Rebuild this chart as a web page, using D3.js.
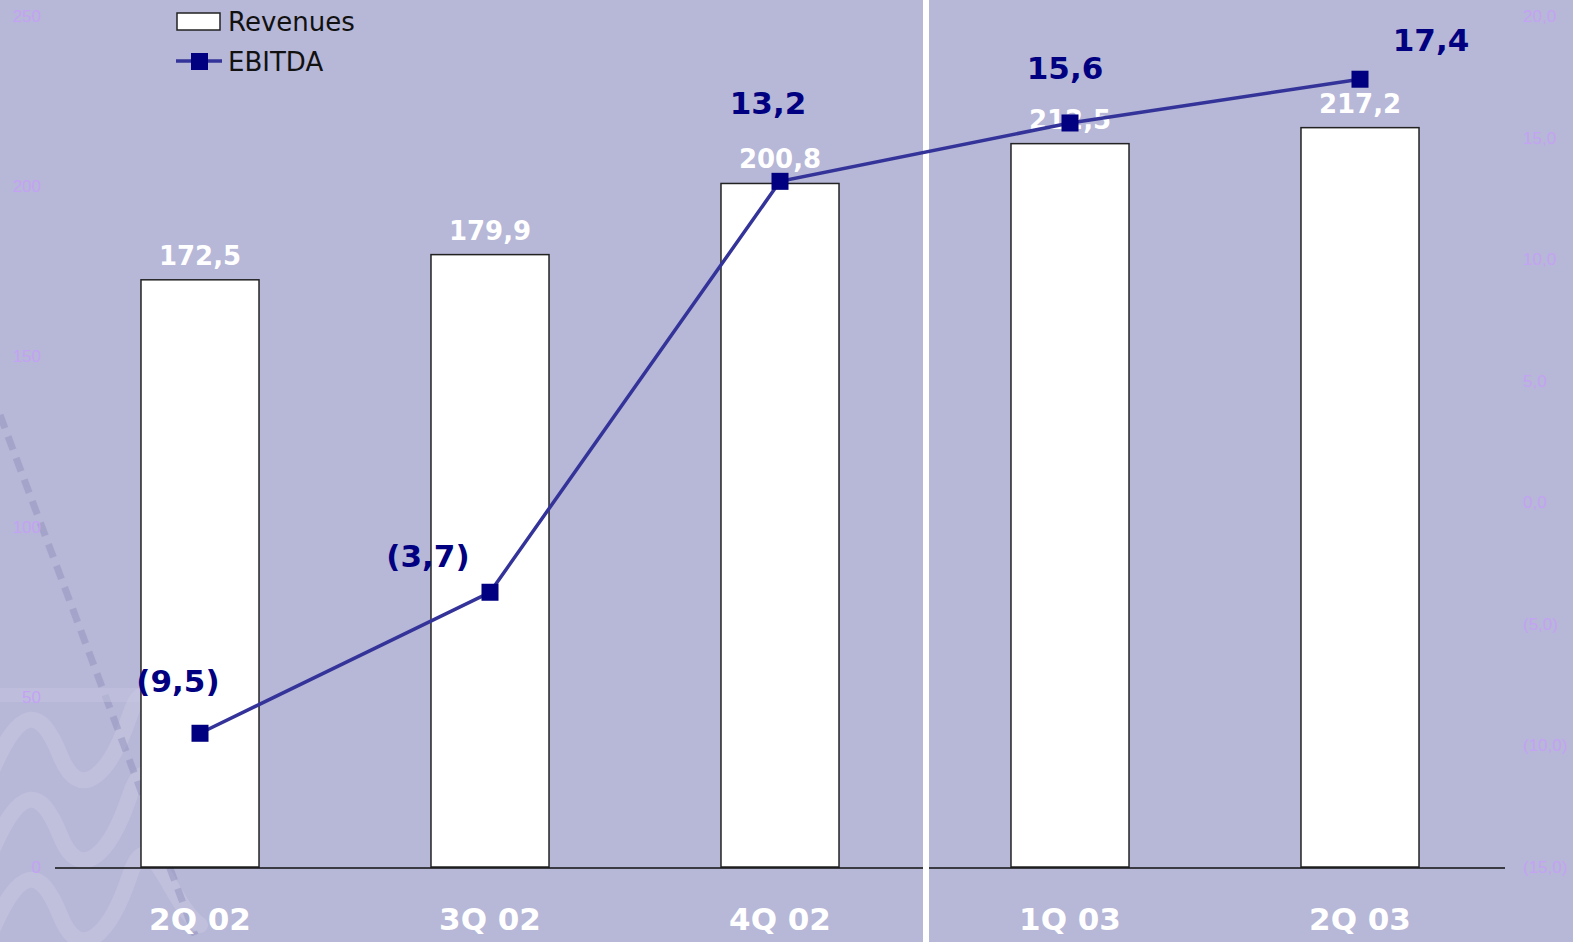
<!DOCTYPE html>
<html><head><meta charset="utf-8">
<script src="https://cdn.jsdelivr.net/npm/d3@7"></script>
<style>html,body{margin:0;padding:0;background:#b7b7d7;overflow:hidden}</style>
</head><body>
<svg id="chart" width="1573" height="942"></svg>
<script>
const categories = ["2Q 02","3Q 02","4Q 02","1Q 03","2Q 03"];
const revenues = [172.5, 179.9, 200.8, 212.5, 217.2];
const ebitda = [-9.5, -3.7, 13.2, 15.6, 17.4];
const revLabels = ["172,5","179,9","200,8","212,5","217,2"];
const ebitdaLabels = ["(9,5)","(3,7)","13,2","15,6","17,4"];
const leftTicks = [0,50,100,150,200,250];
const rightTicks = [-15,-10,-5,0,5,10,15,20];
const rightTickLabels = ["(15,0)","(10,0)","(5,0)","0,0","5,0","10,0","15,0","20,0"];
// label offsets (layout)
const ebLabelDx = [-22, -62, -12, -5, 71];
const ebLabelDy = [-41, -25, -67, -44, -28];

const svg = d3.select("#chart");
const W = 1573, H = 942;
svg.append("rect").attr("width",W).attr("height",H).attr("fill","#b7b7d7");

// faint background decoration
const deco = svg.append("g").attr("opacity",0.22).attr("fill","none").attr("stroke","#e2e2f4").attr("stroke-width",16).attr("stroke-linecap","round");
[735,815,895].forEach(y0=>{
  deco.append("path").attr("d",`M-10 ${y0+40} C20 ${y0-30}, 40 ${y0-30}, 60 ${y0+20} S110 ${y0+40}, 130 ${y0-20} S170 ${y0+10}, 200 ${y0+30}`);
});
svg.append("path").attr("d","M0 415 L195 935").attr("stroke","#9696c0").attr("stroke-width",7)
  .attr("stroke-dasharray","14 9").attr("opacity",0.55).attr("fill","none");
svg.append("rect").attr("x",0).attr("y",688).attr("width",140).attr("height",14).attr("fill","#c8c8e2").attr("opacity",0.45);

const x = d3.scaleBand().domain(categories).range([55,1505]).paddingInner(0.593).paddingOuter(0.2965);
const yL = d3.scaleLinear().domain([0,250]).range([867,16]);
const yR = d3.scaleLinear().domain([-15,20]).range([867,16]);

// left axis labels
svg.append("g").selectAll("text").data(leftTicks).join("text")
  .attr("x",41).attr("y",d=>yL(d)+6).attr("text-anchor","end")
  .attr("font-family","Liberation Sans, Arial, sans-serif").attr("font-size",17)
  .attr("fill","#c4a2f4").text(d=>d);
// right axis labels
svg.append("g").selectAll("text").data(rightTicks).join("text")
  .attr("x",1523).attr("y",d=>yR(d)+6).attr("text-anchor","start")
  .attr("font-family","Liberation Sans, Arial, sans-serif").attr("font-size",17)
  .attr("fill","#c4a2f4").text((d,i)=>rightTickLabels[i]);

// bars
svg.append("g").selectAll("rect").data(revenues).join("rect")
  .attr("x",(d,i)=>x(categories[i])).attr("width",x.bandwidth())
  .attr("y",d=>yL(d)).attr("height",d=>yL(0)-yL(d))
  .attr("fill","#ffffff").attr("stroke","#222").attr("stroke-width",1.5);

// baseline
svg.append("line").attr("x1",55).attr("x2",1505).attr("y1",yL(0)+1).attr("y2",yL(0)+1)
  .attr("stroke","#111").attr("stroke-width",1.5);

// revenue labels
svg.append("g").selectAll("text").data(revenues).join("text")
  .attr("x",(d,i)=>x(categories[i])+x.bandwidth()/2).attr("y",d=>yL(d)-15)
  .attr("text-anchor","middle").attr("font-family","DejaVu Sans, Verdana, sans-serif")
  .attr("font-weight","bold").attr("font-size",26).attr("fill","#ffffff")
  .text((d,i)=>revLabels[i]);

// separator
svg.append("rect").attr("x",923).attr("y",0).attr("width",6).attr("height",H).attr("fill","#ffffff");

// EBITDA line
const cx = (i)=>x(categories[i])+x.bandwidth()/2;
const line = d3.line().x((d,i)=>cx(i)).y(d=>yR(d));
svg.append("path").datum(ebitda).attr("d",line).attr("fill","none")
  .attr("stroke","#333399").attr("stroke-width",3.5);
svg.append("g").selectAll("rect").data(ebitda).join("rect")
  .attr("x",(d,i)=>cx(i)-8.5).attr("y",d=>yR(d)-8.5).attr("width",17).attr("height",17)
  .attr("fill","#000080");
svg.append("g").selectAll("text").data(ebitda).join("text")
  .attr("x",(d,i)=>cx(i)+ebLabelDx[i]).attr("y",(d,i)=>yR(d)+ebLabelDy[i])
  .attr("text-anchor","middle").attr("font-family","DejaVu Sans, Verdana, sans-serif")
  .attr("font-weight","bold").attr("font-size",31).attr("fill","#000080")
  .text((d,i)=>ebitdaLabels[i]);

// x axis labels
svg.append("g").selectAll("text").data(categories).join("text")
  .attr("x",(d,i)=>cx(i)).attr("y",930).attr("text-anchor","middle")
  .attr("font-family","DejaVu Sans, Verdana, sans-serif").attr("font-weight","bold")
  .attr("font-size",31).attr("fill","#ffffff").text(d=>d);

// legend
const lg = svg.append("g");
lg.append("rect").attr("x",177).attr("y",13).attr("width",43).attr("height",17)
  .attr("fill","#fff").attr("stroke","#222").attr("stroke-width",1.5);
lg.append("text").attr("x",228).attr("y",31).attr("font-family","DejaVu Sans, Verdana, sans-serif")
  .attr("font-size",26).attr("fill","#111").text("Revenues");
lg.append("line").attr("x1",176).attr("x2",222).attr("y1",61).attr("y2",61)
  .attr("stroke","#333399").attr("stroke-width",3.5);
lg.append("rect").attr("x",191).attr("y",53).attr("width",17).attr("height",17).attr("fill","#000080");
lg.append("text").attr("x",228).attr("y",71).attr("font-family","DejaVu Sans, Verdana, sans-serif")
  .attr("font-size",26).attr("fill","#111").text("EBITDA");
</script>
</body></html>
